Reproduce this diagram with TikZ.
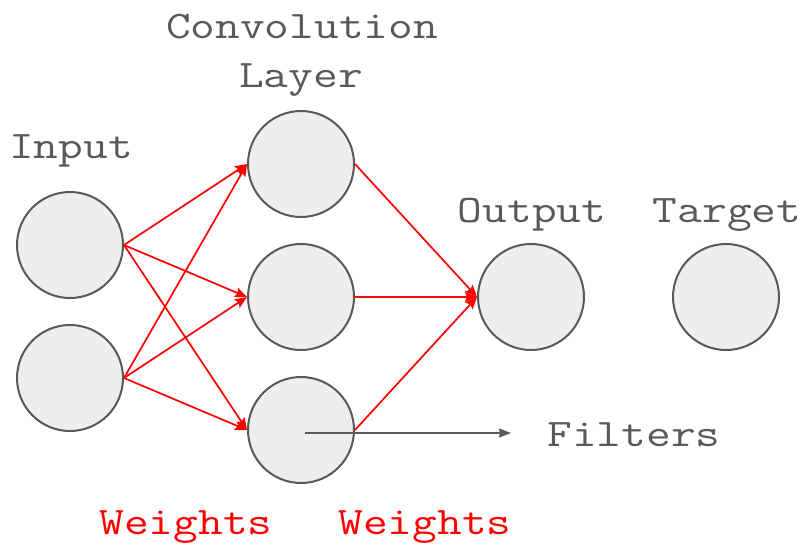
\documentclass[tikz,border=0pt]{standalone}
\usepackage{fontspec}
\setmonofont[FakeStretch=1.23]{Latin Modern Mono}
\usetikzlibrary{arrows.meta}
\definecolor{ink}{HTML}{595959}
\definecolor{cellfill}{HTML}{EEEEEE}
\tikzset{
  neuron/.style={circle, draw=ink, fill=cellfill, line width=2pt, minimum size=106pt, inner sep=0pt},
  caption/.style={text=ink, font=\ttfamily\fontsize{39}{44}\selectfont, inner sep=0pt},
  redcap/.style={text=red, font=\ttfamily\fontsize{39}{44}\selectfont, inner sep=0pt},
  weight/.style={draw=red, line width=1.7pt, -{Stealth[length=12pt,width=10pt,inset=2pt]}},
  pointer/.style={draw=ink, line width=1.7pt, -{Stealth[length=12pt,width=9pt,inset=1pt]}}
}
\begin{document}
\begin{tikzpicture}[x=1pt,y=-1pt]
  \useasboundingbox (0,0) rectangle (805,544);
  % neurons
  \node[neuron] (i1) at (70,245) {};
  \node[neuron] (i2) at (70,378) {};
  \node[neuron] (c1) at (301,164) {};
  \node[neuron] (c2) at (301,297) {};
  \node[neuron] (c3) at (301,430) {};
  \node[neuron] (o) at (531,297) {};
  \node[neuron] (t) at (726,297) {};
  % labels
  \node[caption] (lconv) at (302,27) {Convolution};
  \node[caption] (llayer) at (301,80) {Layer};
  \node[caption] (lin) at (71,151) {Input};
  \node[caption] (lout) at (532,215) {Output};
  \node[caption] (ltgt) at (727,215) {Target};
  \node[caption] (lfil) at (634,435) {Filters};
  \node[redcap] (w1) at (186,527) {Weights};
  \node[redcap] (w2) at (425,527) {Weights};
  % input -> convolution
  \foreach \a in {i1,i2}
    \foreach \b in {c1,c2,c3}
      \draw[weight] (\a.east) -- (\b.west);
  % convolution -> output
  \foreach \b in {c1,c2,c3}
    \draw[weight] (\b.east) -- (o.west);
  % filters pointer
  \coordinate (fs) at (305,433);
  \coordinate (fe) at (511,433);
  \draw[pointer] (fs) -- (fe);
\end{tikzpicture}
\end{document}
